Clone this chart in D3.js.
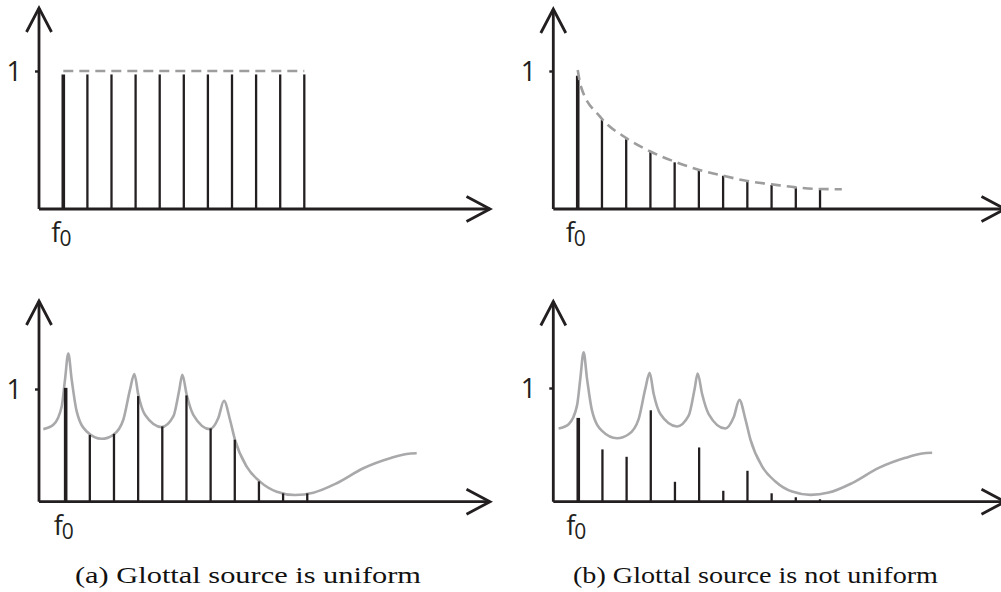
<!DOCTYPE html>
<html>
<head>
<meta charset="utf-8">
<script src="https://cdn.jsdelivr.net/npm/d3@7/dist/d3.min.js"></script>
<style>
  html, body { margin: 0; padding: 0; background: #fff; }
  svg { display: block; }
</style>
</head>
<body>
<svg id="fig" width="1001" height="592"></svg>
<script>
// Harmonic numbers (multiples of f0)
const harmonics = [1, 2, 3, 4, 5, 6, 7, 8, 9, 10, 11];

// Glottal source spectra
const uniformSourceAmps = [0.975, 0.975, 0.975, 0.975, 0.975, 0.975, 0.975, 0.975, 0.975, 0.975, 0.975];
const uniformSourceCeiling = [[1, 1], [11, 1]];
const decayingSourceAmps = [0.966, 0.645, 0.505, 0.42, 0.338, 0.283, 0.241, 0.203, 0.174, 0.157, 0.138];
const decayingSourceTrend = [
  [1.0, 1.007], [1.135, 0.886], [1.92, 0.669], [3.02, 0.512], [4.02, 0.415],
  [5.0, 0.343], [6.02, 0.283], [7.0, 0.241], [8.0, 0.203], [9.0, 0.179],
  [10.0, 0.157], [11.0, 0.145], [11.9, 0.143]
];

// Output spectra after the vocal tract filter
const filteredUniformAmps = [1.01, 0.593, 0.602, 0.937, 0.668, 0.943, 0.65, 0.55, 0.18, 0.074, 0.074];
const filteredNonUniformAmps = [0.737, 0.46, 0.395, 0.804, 0.175, 0.477, 0.096, 0.272, 0.074, 0.039, 0.021];

// Vocal tract transfer function (formant envelope), [harmonic units, amplitude]
const vocalTractResponse = [
  [0.075, 0.644], [0.49, 0.682], [0.836, 0.845], [0.973, 1.083], [1.109, 1.314],
  [1.25, 1.083], [1.457, 0.801], [1.871, 0.623], [2.492, 0.558], [2.972, 0.593],
  [3.386, 0.727], [3.663, 0.994], [3.841, 1.133], [4.007, 0.949], [4.284, 0.771],
  [4.975, 0.662], [5.455, 0.756], [5.704, 0.994], [5.828, 1.127], [6.01, 0.949],
  [6.283, 0.771], [6.974, 0.644], [7.318, 0.742], [7.554, 0.896], [7.802, 0.727],
  [8.009, 0.549], [8.493, 0.311], [9.044, 0.178], [9.735, 0.089], [10.493, 0.06],
  [11.25, 0.08], [12.219, 0.164], [13.32, 0.297], [14.425, 0.386], [15.116, 0.424],
  [15.53, 0.43]
];

// Axis labels and captions
const yTickValues = [1];
const yTickLabels = ["1"];
const xTickBase = "f";
const xTickSub = "0";
const captions = ["(a) Glottal source is uniform", "(b) Glottal source is not uniform"];

const INK = "#231f20";
const GREY_DASH = "#9d9d9d";
const GREY_CURVE = "#a9a9ab";

const svg = d3.select("#fig");

// Panel frames
const panels = [
  { axisX: 39, axisY: 209, topY: 8, rightX: 490, hOrigin: 39.2, hStep: 24.1, oneY: 71,
    amps: uniformSourceAmps, dashed: uniformSourceCeiling, curve: null, envShift: 0 },
  { axisX: 553.3, axisY: 209, topY: 9, rightX: 1005, hOrigin: 553.5, hStep: 24.23, oneY: 71,
    amps: decayingSourceAmps, dashed: decayingSourceTrend, curve: null, envShift: 0 },
  { axisX: 39, axisY: 501.7, topY: 301, rightX: 490, hOrigin: 41.5, hStep: 24.16, oneY: 389,
    amps: filteredUniformAmps, dashed: null, curve: vocalTractResponse, envShift: 0 },
  { axisX: 553.3, axisY: 501.7, topY: 301.5, rightX: 1005, hOrigin: 554.1, hStep: 24.17, oneY: 388,
    amps: filteredNonUniformAmps, dashed: null, curve: vocalTractResponse, envShift: 2.7 }
];

panels.forEach(p => {
  const g = svg.append("g");
  const x = d3.scaleLinear().domain([0, 18]).range([p.hOrigin, p.hOrigin + 18 * p.hStep]);
  const y = d3.scaleLinear().domain([0, 1]).range([p.axisY, p.oneY]);

  // envelope / trend curves behind the harmonics
  if (p.curve) {
    const xe = x.copy().range(x.range().map(v => v + p.envShift));
    g.append("path")
      .attr("d", d3.line().x(d => xe(d[0])).y(d => y(d[1])).curve(d3.curveMonotoneX)(p.curve))
      .attr("fill", "none")
      .attr("stroke", GREY_CURVE)
      .attr("stroke-width", 2.6);
  }

  // harmonic lines
  g.selectAll("line.harm")
    .data(harmonics)
    .join("line")
    .attr("class", "harm")
    .attr("x1", d => x(d)).attr("x2", d => x(d))
    .attr("y1", y(0)).attr("y2", (d, i) => y(p.amps[i]))
    .attr("stroke", INK)
    .attr("stroke-width", (d, i) => i === 0 ? 3.6 : 2.3);

  if (p.dashed) {
    g.append("path")
      .attr("d", d3.line().x(d => x(d[0])).y(d => y(d[1])).curve(d3.curveMonotoneX)(p.dashed))
      .attr("fill", "none")
      .attr("stroke", GREY_DASH)
      .attr("stroke-width", 2.6)
      .attr("stroke-dasharray", "10,6");
  }

  // y tick with label "1"
  const yAxis = d3.axisLeft(y)
    .tickValues(yTickValues)
    .tickFormat((d, i) => yTickLabels[i])
    .tickSize(4)
    .tickPadding(13);
  const ya = g.append("g").attr("transform", `translate(${p.axisX},0)`).call(yAxis);
  ya.select(".domain").remove();
  ya.selectAll(".tick line").attr("stroke", INK).attr("stroke-width", 2.4);
  ya.selectAll(".tick text")
    .attr("fill", INK)
    .attr("font-family", "'Open Sans', 'Noto Sans', sans-serif")
    .attr("font-size", 27)
    .attr("dy", "0.36em");

  // axes lines with open arrowheads
  g.append("path")
    .attr("d", `M${p.axisX},${p.axisY}V${p.topY}M${p.axisX},${p.axisY}H${p.rightX}`)
    .attr("fill", "none").attr("stroke", INK).attr("stroke-width", 2.8);
  g.append("path")
    .attr("d", `M${p.axisX - 12.5},${p.topY + 24}L${p.axisX},${p.topY}L${p.axisX + 12.5},${p.topY + 24}`)
    .attr("fill", "none").attr("stroke", INK).attr("stroke-width", 2.8);
  g.append("path")
    .attr("d", `M${p.rightX - 23.5},${p.axisY - 12.5}L${p.rightX},${p.axisY}L${p.rightX - 23.5},${p.axisY + 12.5}`)
    .attr("fill", "none").attr("stroke", INK).attr("stroke-width", 2.8);

  // f0 label under the first harmonic
  const t = g.append("text")
    .attr("x", x(1) - 12)
    .attr("y", p.axisY + 33)
    .attr("fill", INK)
    .attr("font-family", "'Open Sans', 'Noto Sans', sans-serif")
    .attr("font-size", 27);
  t.append("tspan").text(xTickBase);
  t.append("tspan").attr("font-size", 21).attr("dx", -1).attr("dy", 4).text(xTickSub);
});

// Captions
const captionLayout = [
  { x: 75, len: 346 },
  { x: 573, len: 365 }
];
captions.forEach((c, i) => {
  svg.append("text")
    .attr("x", captionLayout[i].x)
    .attr("y", 583)
    .attr("fill", "#111")
    .attr("font-family", "'Liberation Serif', 'DejaVu Serif', serif")
    .attr("font-size", 23)
    .attr("textLength", captionLayout[i].len)
    .attr("lengthAdjust", "spacingAndGlyphs")
    .text(c);
});
</script>
</body>
</html>
